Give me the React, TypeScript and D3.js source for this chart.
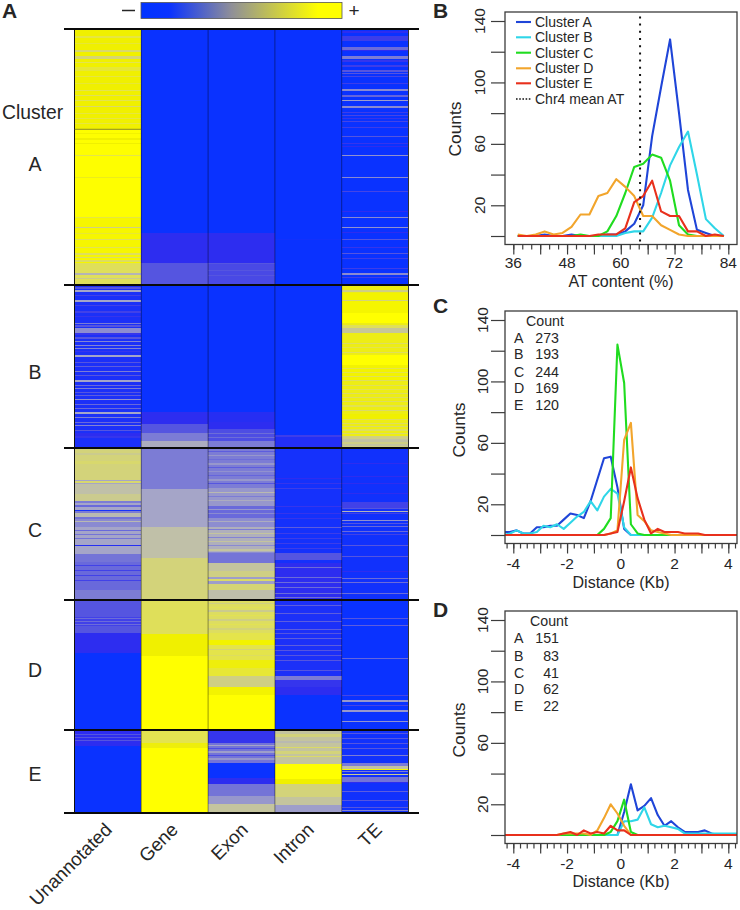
import React, { useEffect, useRef } from "react";
import * as d3 from "d3";

type Band = [number, number, number];

const heatColumns = ["Unannotated", "Gene", "Exon", "Intron", "TE"];
const totalRows = 784;
const clusterBreaks = [0, 256, 419, 571, 701, 784];
const clusterNames = ["A", "B", "C", "D", "E"];
const levelStops = [0, 0.1, 0.2, 0.3, 0.42, 0.53, 0.62, 0.75, 0.9, 1];
const levelColors = ["#0a32ff", "#2d2df0", "#5555e0", "#7c7cd5", "#a5a5c8", "#c0c0a8", "#d3d37a", "#e3e350", "#f0f000", "#ffff00"];

// [first row, number of rows, level]
const unannotatedBands: Band[] = [
  [0, 100, 0.9], [100, 88, 0.99], [188, 46, 0.94], [234, 22, 0.72],
  [7, 2, 0.78], [14, 1, 0.8], [21, 2, 0.66], [27, 3, 0.64], [33, 1, 0.75], [38, 4, 0.8], [47, 1, 0.78], [54, 1, 0.8], [61, 1, 0.75], [66, 1, 0.72], [71, 1, 0.75], [77, 1, 0.68], [84, 1, 0.78], [89, 1, 0.78], [94, 1, 0.78],
  [104, 1, 0.92], [109, 2, 0.9], [114, 1, 0.9], [126, 1, 0.76], [148, 1, 0.85], [188, 1, 0.78], [198, 1, 0.6], [204, 1, 0.8], [210, 1, 0.72], [218, 1, 0.75], [224, 2, 0.72], [228, 1, 0.7], [231, 2, 0.7], [244, 2, 0.48], [249, 1, 0.58],
  [256, 163, 0.05],
  [258, 2, 0.2], [261, 2, 0.42], [266, 1, 0.15], [271, 2, 0.42], [276, 1, 0.15], [282, 2, 0.15], [287, 1, 0.12], [294, 1, 0.3], [296, 2, 0.2], [299, 5, 0.35], [304, 2, 0.12], [308, 2, 0.2], [312, 1, 0.32], [316, 1, 0.32], [319, 1, 0.32], [322, 1, 0.12], [326, 2, 0.42], [333, 1, 0.2], [337, 1, 0.22], [342, 1, 0.3], [346, 1, 0.2], [351, 2, 0.42], [356, 1, 0.25], [359, 1, 0.3], [363, 1, 0.2], [366, 1, 0.22], [370, 1, 0.36], [375, 1, 0.25], [379, 1, 0.25], [383, 2, 0.42], [388, 1, 0.3], [393, 1, 0.25], [396, 1, 0.32], [401, 1, 0.2], [404, 3, 0.1], [407, 2, 0.12],
  [419, 152, 0.42],
  [419, 32, 0.62], [424, 2, 0.58], [432, 3, 0.66], [451, 1, 0.42], [452, 2, 0.66], [454, 1, 0.42], [455, 10, 0.53], [465, 7, 0.58], [472, 2, 0.3], [474, 2, 0.42], [476, 2, 0.25], [478, 2, 0.42], [481, 1, 0.03], [482, 2, 0.3], [484, 4, 0.5], [488, 2, 0.28], [490, 8, 0.34], [492, 1, 0.5], [498, 16, 0.42], [501, 1, 0.25], [505, 1, 0.28], [509, 1, 0.28], [516, 1, 0.08], [517, 8, 0.42], [525, 8, 0.28], [533, 28, 0.25], [536, 1, 0.15], [541, 1, 0.15], [546, 1, 0.15], [551, 1, 0.15], [561, 10, 0.3],
  [571, 17, 0.2], [588, 9, 0.15], [589, 1, 0.26], [592, 1, 0.26], [595, 1, 0.26], [597, 7, 0.2], [604, 20, 0.1], [624, 77, 0],
  [701, 16, 0.1], [705, 1, 0.2], [708, 1, 0.2], [711, 1, 0.2], [717, 67, 0],
];

const geneBands: Band[] = [
  [0, 204, 0], [204, 30, 0.1], [234, 22, 0.2],
  [256, 127, 0], [383, 12, 0.1], [395, 9, 0.2], [404, 8, 0.3], [412, 7, 0.45],
  [419, 41, 0.3], [460, 38, 0.42], [498, 31, 0.53], [529, 43, 0.62],
  [572, 33, 0.72], [605, 22, 0.9], [627, 74, 1],
  [701, 13, 0.75], [714, 5, 0.88], [719, 65, 1],
];

const exonBands: Band[] = [
  [0, 204, 0], [204, 30, 0.1], [234, 22, 0.17], [234, 1, 0.2], [241, 1, 0.2], [246, 1, 0.2],
  [256, 127, 0], [383, 10, 0.08], [393, 7, 0.1], [400, 12, 0.18], [404, 1, 0.26], [408, 1, 0.26], [412, 7, 0.3],
  [419, 152, 0.34],
  [419, 40, 0.3], [422, 1, 0.22], [426, 1, 0.38], [430, 1, 0.26], [434, 2, 0.38], [438, 1, 0.22], [442, 1, 0.36], [446, 1, 0.24], [450, 2, 0.38], [454, 1, 0.2], [459, 18, 0.38], [463, 1, 0.5], [467, 1, 0.3], [471, 1, 0.45], [477, 12, 0.25], [480, 1, 0.38], [484, 1, 0.34], [489, 9, 0.35], [492, 1, 0.45], [498, 25, 0.46], [500, 1, 0.3], [504, 1, 0.55], [508, 1, 0.32], [512, 1, 0.55], [516, 1, 0.34], [520, 2, 0.55], [524, 10, 0.28], [534, 8, 0.55], [542, 6, 0.6], [548, 2, 0.4], [550, 2, 0.68], [552, 3, 0.4], [555, 6, 0.64], [561, 10, 0.52],
  [571, 130, 0.7],
  [571, 33, 0.7], [574, 1, 0.6], [578, 1, 0.74], [581, 2, 0.58], [586, 1, 0.74], [590, 2, 0.6], [595, 1, 0.74], [599, 2, 0.62], [604, 7, 0.76], [611, 5, 0.92], [616, 15, 0.76], [620, 1, 0.64], [626, 1, 0.7], [631, 8, 0.88], [639, 8, 0.8], [647, 11, 0.6], [658, 8, 0.92], [666, 35, 1],
  [701, 13, 0.12], [714, 20, 0.28], [716, 1, 0.42], [719, 1, 0.18], [722, 2, 0.4], [726, 1, 0.18], [729, 2, 0.38], [734, 15, 0], [749, 6, 0.1], [755, 12, 0.28], [767, 8, 0.38], [775, 9, 0.55],
];

const intronBands: Band[] = [
  [0, 210, 0], [210, 1, 0.02], [211, 195, 0], [406, 2, 0.14], [408, 11, 0.07],
  [419, 152, 0.03], [449, 1, 0.1], [454, 1, 0.12], [459, 1, 0.14], [477, 1, 0.12], [484, 1, 0.12], [489, 1, 0.12], [498, 1, 0.22], [504, 1, 0.14], [509, 1, 0.14], [514, 1, 0.14], [519, 1, 0.14], [524, 7, 0.2], [534, 37, 0.1], [538, 1, 0.26], [548, 1, 0.26], [553, 1, 0.26], [558, 1, 0.26], [564, 1, 0.26], [568, 1, 0.26],
  [571, 78, 0.05], [576, 1, 0.22], [584, 1, 0.22], [592, 1, 0.22], [600, 1, 0.22], [604, 1, 0.2], [609, 1, 0.22], [616, 1, 0.22], [621, 1, 0.2], [626, 1, 0.2], [631, 1, 0.2], [641, 1, 0.2], [647, 4, 0.3], [651, 7, 0.12], [658, 8, 0.1], [666, 35, 0],
  [701, 34, 0.55], [705, 3, 0.62], [712, 2, 0.5], [718, 1, 0.68], [722, 3, 0.62], [727, 1, 0.68], [735, 15, 1], [750, 5, 0.9], [755, 13, 0.62], [768, 8, 0.55], [776, 8, 0.4],
];

const teBands: Band[] = [
  [0, 256, 0],
  [2, 2, 0.1], [7, 5, 0.14], [18, 3, 0.26], [21, 1, 0.1], [27, 3, 0.3], [31, 2, 0.12], [36, 2, 0.14], [41, 2, 0.2], [44, 1, 0.2], [47, 1, 0.16], [54, 1, 0.14], [60, 2, 0.34], [66, 2, 0.24], [71, 1, 0.4], [77, 2, 0.34], [83, 1, 0.14], [86, 1, 0.16], [89, 1, 0.12], [92, 1, 0.16], [98, 1, 0.14], [107, 1, 0.2], [114, 1, 0.12], [117, 1, 0.1], [126, 1, 0.36], [148, 1, 0.34], [162, 1, 0.16], [182, 1, 0.1], [188, 1, 0.34], [198, 1, 0.36], [203, 1, 0.1], [210, 1, 0.2], [218, 1, 0.12], [224, 1, 0.2], [229, 1, 0.14], [239, 1, 0.14], [244, 2, 0.34], [248, 1, 0.14],
  [256, 163, 0.86],
  [261, 2, 0.6], [264, 8, 0.92], [271, 1, 0.62], [272, 12, 0.93], [284, 10, 1], [299, 5, 0.56], [296, 3, 0.72], [314, 1, 0.7], [318, 1, 0.76], [323, 1, 0.72], [326, 10, 1], [336, 15, 0.92], [339, 1, 0.76], [343, 1, 0.76], [347, 1, 0.74], [351, 1, 0.7], [356, 1, 0.72], [360, 1, 0.74], [364, 1, 0.7], [368, 1, 0.72], [372, 1, 0.7], [376, 2, 0.74], [381, 1, 0.68], [385, 5, 0.9], [390, 1, 0.72], [394, 1, 0.7], [397, 1, 0.68], [400, 2, 0.72], [404, 1, 0.68], [407, 12, 0.6], [410, 3, 0.54], [415, 2, 0.55],
  [419, 152, 0.02], [434, 1, 0.1], [447, 1, 0.1], [454, 1, 0.1], [464, 1, 0.1], [473, 6, 0.15], [479, 1, 0.2], [482, 1, 0.48], [484, 1, 0.15], [491, 1, 0.36], [494, 1, 0.2], [497, 1, 0.25], [502, 1, 0.25], [505, 1, 0.15], [516, 1, 0.2], [527, 1, 0.2], [542, 1, 0.1], [549, 1, 0.26], [553, 1, 0.26], [564, 1, 0.26],
  [571, 130, 0], [589, 1, 0.2], [596, 1, 0.22], [629, 1, 0.24], [666, 1, 0.16], [671, 2, 0.38], [676, 1, 0.16], [681, 2, 0.38], [692, 1, 0.36],
  [701, 83, 0.02], [704, 1, 0.2], [709, 1, 0.2], [714, 1, 0.2], [719, 1, 0.2], [726, 1, 0.3], [734, 3, 0.3], [737, 3, 0.54], [740, 1, 0.95], [742, 1, 0.3], [745, 1, 0.58], [748, 5, 0.28], [753, 1, 0.1], [762, 1, 0.22], [771, 1, 0.2], [778, 1, 0.2], [781, 1, 0.32],
];
const heatBands = [unannotatedBands, geneBands, exonBands, intronBands, teBands];

const barStops = [0, 0.14, 0.45, 0.88, 1];
const barColors = ["#0033ff", "#0a32ff", "#8f8f98", "#ffff00", "#ffff00"];

const seriesNames = ["Cluster A", "Cluster B", "Cluster C", "Cluster D", "Cluster E"];
const seriesColors = ["#1f45d8", "#2fd6e8", "#20dc20", "#f2a52c", "#e8301c"];

const atBins = [37, 39, 41, 43, 45, 47, 49, 51, 53, 55, 57, 59, 61, 63, 65, 67, 69, 71, 73, 75, 77, 79, 81, 83];
const atA = [0, 0, 0, 1, 0, 0, 1, 0, 0, 0, 1, 1, 3, 8, 20, 65, 97, 128, 80, 30, 4, 2, 0, 0];
const atB = [0, 0, 0, 0, 0, 0, 0, 0, 0, 0, 0, 0, 2, 3, 3, 12, 28, 46, 58, 68, 40, 11, 5, 0];
const atC = [0, 0, 0, 0, 0, 0, 0, 1, 0, 0, 3, 13, 28, 45, 47, 53, 51, 36, 7, 1, 0, 0, 0, 0];
const atD = [1, 0, 1, 3, 1, 2, 6, 14, 14, 26, 28, 37, 32, 26, 13, 13, 7, 4, 1, 0, 0, 0, 0, 0];
const atE = [0, 0, 0, 0, 0, 0, 0, 0, 0, 1, 1, 1, 5, 22, 26, 36, 16, 13, 13, 3, 3, 0, 1, 0];
const chr4MeanAT = 64.3;

const distBins = [-4.375, -4.125, -3.875, -3.625, -3.375, -3.125, -2.875, -2.625, -2.375, -2.125, -1.875, -1.625, -1.375, -1.125, -0.875, -0.625, -0.375, -0.125, 0.125, 0.375, 0.625, 0.875, 1.125, 1.375, 1.625, 1.875, 2.125, 2.375, 2.625, 2.875, 3.125, 3.375, 3.625, 3.875, 4.125, 4.375];
const tssA = [2, 2, 3, 1, 1, 5, 5, 6, 6, 10, 14, 13, 11, 22, 36, 50, 51, 31, 4, 0, 0, 0, 0, 0, 0, 0, 0, 0, 0, 0, 0, 0, 0, 0, 0, 0];
const tssB = [0, 1, 3, 1, 1, 2, 6, 5, 7, 4, 8, 12, 15, 22, 16, 25, 30, 27, 5, 0, 0, 0, 0, 0, 0, 0, 0, 0, 0, 0, 0, 0, 0, 0, 0, 0];
const tssC = [0, 0, 0, 0, 0, 0, 0, 0, 0, 0, 0, 0, 0, 0, 0, 4, 11, 124, 99, 7, 1, 0, 0, 0, 0, 0, 0, 0, 0, 0, 0, 0, 0, 0, 0, 0];
const tssD = [0, 0, 0, 0, 0, 0, 0, 0, 0, 0, 0, 0, 0, 0, 0, 0, 1, 3, 62, 73, 13, 9, 3, 2, 1, 0, 0, 0, 0, 0, 0, 0, 0, 0, 0, 0];
const tssE = [0, 0, 0, 0, 0, 0, 0, 0, 0, 0, 0, 0, 0, 0, 0, 0, 1, 2, 22, 44, 24, 10, 1, 4, 2, 2, 2, 1, 1, 1, 0, 0, 0, 0, 0, 0];

const ttsA = [0, 0, 0, 0, 0, 0, 0, 0, 0, 0, 0, 0, 0, 0, 0, 0, 0, 0, 15, 33, 16, 19, 24, 13, 6, 9, 5, 2, 2, 2, 3, 1, 0, 0, 0, 0];
const ttsB = [0, 0, 0, 0, 0, 0, 0, 0, 0, 0, 0, 0, 0, 0, 0, 0, 0, 0, 9, 9, 10, 18, 7, 5, 6, 5, 4, 1, 1, 1, 1, 1, 1, 1, 1, 1];
const ttsC = [0, 0, 0, 0, 0, 0, 0, 0, 0, 0, 0, 0, 0, 0, 0, 0, 2, 9, 23, 2, 0, 0, 0, 0, 0, 0, 0, 0, 0, 0, 0, 0, 0, 0, 0, 0];
const ttsD = [0, 0, 0, 0, 0, 0, 0, 0, 0, 1, 1, 1, 1, 0, 3, 11, 20, 14, 6, 0, 0, 0, 0, 0, 0, 0, 0, 0, 0, 0, 0, 0, 0, 0, 0, 0];
const ttsE = [0, 0, 0, 0, 0, 0, 0, 0, 0, 1, 2, 0, 3, 1, 2, 1, 6, 3, 3, 0, 0, 0, 0, 0, 0, 0, 0, 0, 0, 0, 0, 0, 0, 0, 0, 0];

const countRows = ["A", "B", "C", "D", "E"];
const tssCounts = ["273", "193", "244", "169", "120"];
const ttsCounts = ["151", "83", "41", "62", "22"];

const countTicks = [0, 20, 40, 60, 80, 100, 120, 140];
const countLabels = [20, 60, 100, 140];
const atLabels = [36, 48, 60, 72, 84];
const distLabels = [-4, -2, 0, 2, 4];

const FONT = "'Liberation Sans', Arial, sans-serif";
const INK = "#262626";

export default function App() {
  const ref = useRef<SVGSVGElement | null>(null);

  useEffect(() => {
    const svg = d3.select(ref.current!);
    svg.selectAll("*").remove();
    svg.attr("font-family", FONT).attr("fill", INK);

    const text = (x: number, y: number, s: string, size: number, opts: any = {}) => {
      const t = svg.append("text").attr("x", x).attr("y", y).attr("font-size", size).text(s);
      if (opts.anchor) t.attr("text-anchor", opts.anchor);
      if (opts.weight) t.attr("font-weight", opts.weight);
      if (opts.rotate !== undefined) t.attr("transform", `rotate(${opts.rotate} ${x} ${y})`);
      return t;
    };

    // ---------- Panel A
    const level = d3.scaleLinear<string>().domain(levelStops).range(levelColors);
    const colX = d3.scaleBand<string>().domain(heatColumns).range([74.5, 408.5]);
    const rowY = d3.scaleLinear().domain([0, totalRows]).range([29, 813]);

    const grad = svg.append("defs").append("linearGradient").attr("id", "bar");
    barStops.forEach((s, i) => grad.append("stop").attr("offset", s).attr("stop-color", barColors[i]));
    svg.append("rect").attr("x", 141).attr("y", 2.5).attr("width", 201).attr("height", 16)
      .attr("fill", "url(#bar)").attr("stroke", "#555").attr("stroke-width", 0.8);
    svg.append("line").attr("x1", 122).attr("x2", 135).attr("y1", 10.5).attr("y2", 10.5).attr("stroke", INK).attr("stroke-width", 1.5);
    text(354, 17, "+", 19, { anchor: "middle" });

    heatColumns.forEach((c, i) => {
      svg.append("g").attr("shape-rendering", "crispEdges").selectAll("rect").data(heatBands[i]).join("rect")
        .attr("x", colX(c)!).attr("width", colX.bandwidth())
        .attr("y", (b) => rowY(b[0])).attr("height", (b) => rowY(b[0] + b[1]) - rowY(b[0]))
        .attr("fill", (b) => level(b[2]));
    });
    heatColumns.slice(1).forEach((c) => {
      svg.append("line").attr("x1", colX(c)!).attr("x2", colX(c)!).attr("y1", rowY(0)).attr("y2", rowY(totalRows))
        .attr("stroke", "#000").attr("stroke-opacity", 0.4).attr("stroke-width", 1);
    });
    svg.append("line").attr("x1", 74.5).attr("x2", 74.5).attr("y1", 29).attr("y2", 813).attr("stroke", "#111").attr("stroke-width", 1);
    svg.append("line").attr("x1", 408.5).attr("x2", 408.5).attr("y1", 29).attr("y2", 813).attr("stroke", "#333").attr("stroke-width", 1);
    svg.append("line").attr("x1", colX("Unannotated")!).attr("x2", colX("Gene")!).attr("y1", rowY(100.3)).attr("y2", rowY(100.3))
      .attr("stroke", "#6e6e30").attr("stroke-width", 0.8);
    clusterBreaks.forEach((b) => {
      svg.append("line").attr("x1", 64).attr("x2", 419).attr("y1", rowY(b)).attr("y2", rowY(b)).attr("stroke", "#0a0a0a").attr("stroke-width", 2);
    });

    text(2, 18, "A", 21, { weight: 700 });
    text(2, 119, "Cluster", 19.3);
    const clusterBase = [171, 379, 537, 677, 781];
    clusterNames.forEach((n, i) => text(35, clusterBase[i], n, 19.5, { anchor: "middle" }));
    const labelEnd = [[113, 831], [179, 831], [249, 831], [315, 831], [383, 831]];
    heatColumns.forEach((c, i) => text(labelEnd[i][0], labelEnd[i][1], c, 18.7, { anchor: "end", rotate: -45 }));

    // ---------- Line panels
    const y140 = (top: number) => top + 9;
    const drawPanel = (opts: any) => {
      const { top, x, bins, series, minor, major, labels, title, titleY, tickY, countX, countY, tickLabelX, letter, letterY, fmt } = opts;
      const left = 505, right = 737, bottom = top + 232.5;
      const y = d3.scaleLinear().domain([0, 140]).range([y140(top) + 215, y140(top)]);
      const line = d3.line<number>().x((_, i) => x(bins[i])).y((d) => y(d));
      const clipId = `clip-${letter}`;
      svg.append("clipPath").attr("id", clipId).append("rect").attr("x", left).attr("y", top).attr("width", right - left).attr("height", bottom - top);
      series.forEach((s: number[], i: number) => {
        svg.append("path").attr("d", line(s)!).attr("fill", "none").attr("stroke", seriesColors[i])
          .attr("stroke-width", 2.1).attr("stroke-linejoin", "round").attr("clip-path", `url(#${clipId})`);
      });
      svg.append("rect").attr("x", left).attr("y", top).attr("width", right - left).attr("height", bottom - top)
        .attr("fill", "none").attr("stroke", "#3c3c3c").attr("stroke-width", 1.3);

      const minorAxis = d3.axisBottom(x).tickValues(minor).tickSize(5).tickFormat(() => "");
      const majorAxis = d3.axisBottom(x).tickValues(major).tickSize(10).tickFormat(() => "");
      [minorAxis, majorAxis].forEach((a) => {
        const g = svg.append("g").attr("transform", `translate(0,${bottom})`).call(a);
        g.select(".domain").remove();
        g.selectAll("line").attr("stroke", "#3c3c3c").attr("stroke-width", 1.2);
      });
      labels.forEach((v: number) => text(x(v), tickY, fmt(v), 15.5, { anchor: "middle" }));
      text(621, titleY, title, 16, { anchor: "middle" });

      const yAxis = d3.axisLeft(y).tickValues(countTicks).tickSize(14).tickFormat(() => "");
      const yg = svg.append("g").attr("transform", `translate(${left},0)`).call(yAxis);
      yg.select(".domain").remove();
      yg.selectAll("line").attr("stroke", "#3c3c3c").attr("stroke-width", 1.2);
      countLabels.forEach((v) => text(tickLabelX, y(v), String(v), 15.5, { anchor: "middle", rotate: -90 }));
      text(countX, countY, "Counts", 17.4, { anchor: "middle", rotate: -90 });
      text(433, letterY, letter, 21, { weight: 700 });
    };

    const xAT = d3.scaleLinear().domain([36, 84]).range([513.3, 728.3]);
    const xDist = d3.scaleLinear().domain([-4, 4]).range([513.3, 728.3]);
    const atMinor = d3.range(36, 85, 2);
    const atMajor = d3.range(36, 85, 6);
    const distMinor = d3.range(-4.25, 4.26, 0.25);
    const distMajor = d3.range(-4, 4.01, 1);

    drawPanel({
      top: 12, x: xAT, bins: atBins, series: [atA, atB, atC, atD, atE], minor: atMinor, major: atMajor,
      labels: atLabels, title: "AT content (%)", titleY: 287, tickY: 268, countX: 461, countY: 129, tickLabelX: 485,
      letter: "B", letterY: 18, fmt: (v: number) => String(v),
    });
    drawPanel({
      top: 311, x: xDist, bins: distBins, series: [tssA, tssB, tssC, tssD, tssE], minor: distMinor, major: distMajor,
      labels: distLabels, title: "Distance (Kb)", titleY: 588, tickY: 569, countX: 465, countY: 430, tickLabelX: 488,
      letter: "C", letterY: 313, fmt: (v: number) => String(v),
    });
    drawPanel({
      top: 611, x: xDist, bins: distBins, series: [ttsA, ttsB, ttsC, ttsD, ttsE], minor: distMinor, major: distMajor,
      labels: distLabels, title: "Distance (Kb)", titleY: 887, tickY: 869, countX: 465, countY: 730, tickLabelX: 488,
      letter: "D", letterY: 617, fmt: (v: number) => String(v),
    });

    // Panel B mean line and legend
    const yB = d3.scaleLinear().domain([0, 140]).range([236, 21]);
    svg.append("line").attr("x1", xAT(chr4MeanAT)).attr("x2", xAT(chr4MeanAT)).attr("y1", yB(143)).attr("y2", 245)
      .attr("stroke", "#111").attr("stroke-width", 2).attr("stroke-dasharray", "2 5.2");
    const legendY = [22, 37.3, 52.7, 68.3, 83.3];
    seriesNames.forEach((n, i) => {
      svg.append("line").attr("x1", 516).attr("x2", 531).attr("y1", legendY[i]).attr("y2", legendY[i]).attr("stroke", seriesColors[i]).attr("stroke-width", 2.1);
      text(535, legendY[i] + 5, n, 14);
    });
    svg.append("line").attr("x1", 516).attr("x2", 531).attr("y1", 99).attr("y2", 99).attr("stroke", "#111").attr("stroke-width", 1.6).attr("stroke-dasharray", "1.6 1.6");
    text(535, 104, "Chr4 mean AT", 14);

    // Count tables
    const table = (headX: number, headY: number, rowsY: number[], vals: string[]) => {
      text(headX, headY, "Count", 14.2);
      countRows.forEach((r, i) => {
        text(514, rowsY[i], r, 14.2);
        text(559, rowsY[i], vals[i], 14.2, { anchor: "end" });
      });
    };
    table(526, 326, [342.7, 359.3, 376.7, 392.7, 410], tssCounts);
    table(530, 626, [643, 660.7, 677.7, 694.3, 711], ttsCounts);
  }, []);

  return <svg ref={ref} width={740} height={910} style={{ position: "absolute", left: 0, top: 0, display: "block", background: "#fff" }} />;
}
